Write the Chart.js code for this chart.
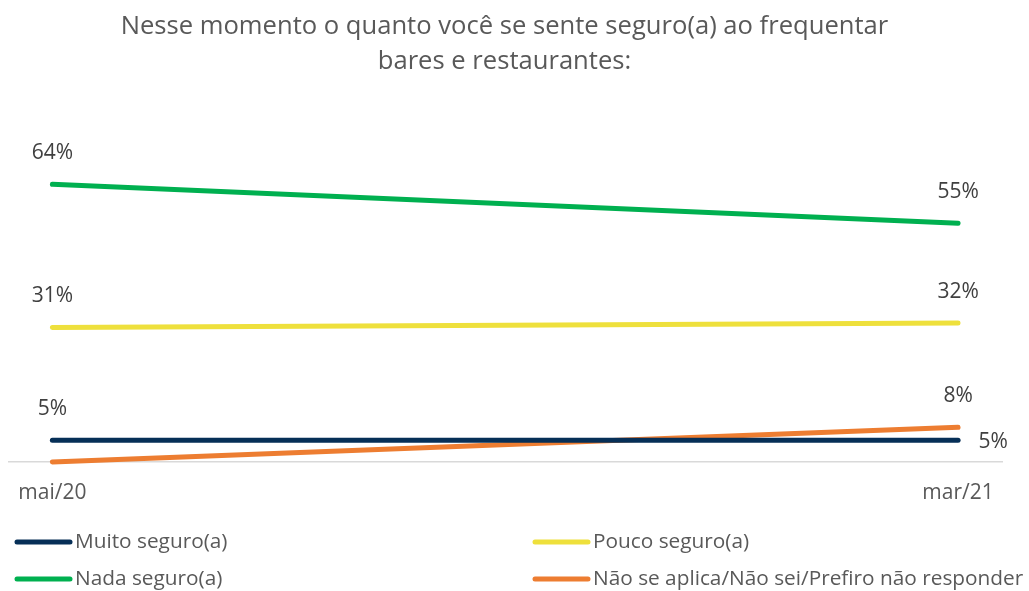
<!DOCTYPE html>
<html>
<head>
<meta charset="utf-8">
<script src="https://cdn.jsdelivr.net/npm/chart.js@4"></script>
<style>
  html, body { margin: 0; padding: 0; background: #fff; }
  #wrap { width: 1029px; height: 591px; }
</style>
</head>
<body>
<div id="wrap"><canvas id="chart"></canvas></div>
<script>
// --- Data ---
const periods = ["mai/20", "mar/21"];
const seriesNames = ["Muito seguro(a)", "Pouco seguro(a)", "Nada seguro(a)", "Não se aplica/Não sei/Prefiro não responder"];
const muitoSeguro = [5, 5];
const poucoSeguro = [31, 32];
const nadaSeguro = [64, 55];
const naoSeAplica = [0, 8];
const seriesColors = ["#062f57", "#eee03c", "#00b050", "#ed7d31"];

const FONT = "'Open Sans', 'Noto Sans', sans-serif";

const toPoints = vals => vals.map((v, i) => ({ x: i, y: v }));

// --- Data labels (percent above each point) ---
const valueLabels = {
  id: "valueLabels",
  afterDatasetsDraw(chart) {
    const ctx = chart.ctx;
    ctx.save();
    ctx.font = "21px " + FONT;
    ctx.fillStyle = "#404040";
    ctx.textAlign = "center";
    ctx.textBaseline = "middle";
    chart.data.datasets.forEach((ds, di) => {
      const meta = chart.getDatasetMeta(di);
      meta.data.forEach((pt, j) => {
        const v = ds.data[j].y;
        if (v === 0) return; // no label on the empty start point
        let x = pt.x, y = pt.y - 31;
        // Muito seguro at the end sits beside the line, not above
        if (di === 0 && j === 1) { x = pt.x + 35; y = pt.y + 2; }
        ctx.fillText(v + "%", x, y);
      });
    });
    ctx.restore();
  }
};

// --- Legend in two columns under the axis ---
const columnLegend = {
  id: "columnLegend",
  afterDraw(chart) {
    const ctx = chart.ctx;
    const colX = [15, 533];
    const rowY = [542, 579];
    ctx.save();
    ctx.font = "20.8px " + FONT;
    ctx.textBaseline = "middle";
    ctx.textAlign = "left";
    chart.data.datasets.forEach((ds, i) => {
      const x = colX[i % 2];
      const y = rowY[Math.floor(i / 2)];
      ctx.strokeStyle = ds.borderColor;
      ctx.lineWidth = 5;
      ctx.lineCap = "round";
      ctx.beginPath();
      ctx.moveTo(x + 2, y);
      ctx.lineTo(x + 55, y);
      ctx.stroke();
      ctx.fillStyle = "#595959";
      ctx.fillText(ds.label, x + 60, y);
    });
    ctx.restore();
  }
};

const datasets = [muitoSeguro, poucoSeguro, nadaSeguro, naoSeAplica].map((vals, i) => ({
  label: seriesNames[i],
  data: toPoints(vals),
  borderColor: seriesColors[i],
  backgroundColor: seriesColors[i],
  borderWidth: 5,
  borderCapStyle: "round",
  pointRadius: 0,
  pointHoverRadius: 0,
  tension: 0,
  clip: false
}));

new Chart(document.getElementById("chart"), {
  type: "line",
  data: { datasets },
  options: {
    responsive: true,
    maintainAspectRatio: false,
    animation: false,
    layout: { padding: { left: 7, right: 27, top: 0, bottom: 69 } },
    plugins: {
      legend: { display: false },
      tooltip: { enabled: false },
      title: {
        display: true,
        text: ["Nesse momento o quanto você se sente seguro(a) ao frequentar", "bares e restaurantes:"],
        color: "#595959",
        font: { family: FONT, size: 25.6, weight: "normal", lineHeight: 35 / 25.6 },
        padding: { top: 9.5, bottom: 35.3 }
      }
    },
    scales: {
      x: {
        type: "linear",
        min: -0.0485,
        max: 1.0485,
        afterBuildTicks: scale => { scale.ticks = periods.map((p, i) => ({ value: i })); },
        afterFit: scale => { scale.height = 60; },
        grid: { display: false, drawTicks: false },
        border: { display: true, color: "#d9d9d9", width: 1.5 },
        ticks: {
          callback: v => periods[v],
          color: "#595959",
          font: { family: FONT, size: 21 },
          padding: 18,
          maxRotation: 0,
          autoSkip: false
        }
      },
      y: {
        display: false,
        min: 0,
        max: 80
      }
    }
  },
  plugins: [valueLabels, columnLegend]
});
</script>
</body>
</html>
